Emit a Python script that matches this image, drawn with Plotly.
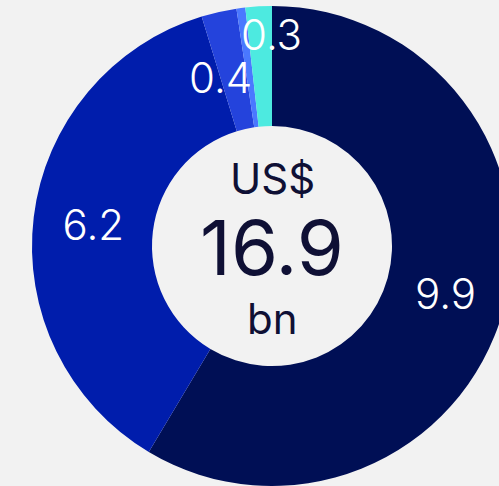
import math
import plotly.graph_objects as go

categories = ["A", "B", "C", "D", "E"]
values = [9.9, 6.2, 0.4, 0.1, 0.3]
labels_shown = ["9.9", "6.2", "0.4", "", "0.3"]
colors = ["#000F55", "#001DAC", "#2443DC", "#4A78FF", "#4DEAE0"]
total_label = "16.9"

W, H = 544, 486
R_OUT = 240
CX, CY = W / 2, 246

# small slices: labels placed outside plotly's inside-text logic
# (index -> (fraction along slice, radius in px))
small_label_pos = {2: (0.0, 176), 4: (1.0, 211)}

texts_inside = [t if i not in small_label_pos else "" for i, t in enumerate(labels_shown)]

fig = go.Figure(go.Pie(
    labels=categories,
    values=values,
    text=texts_inside,
    textinfo="text",
    textposition="inside",
    insidetextorientation="horizontal",
    hole=0.5,
    sort=False,
    direction="clockwise",
    rotation=0,
    marker=dict(colors=colors, line=dict(width=0)),
    textfont=dict(family="Inter", size=42, color="white", weight=300),
    domain=dict(x=[0, 1], y=[0, 2 * R_OUT / H]),
    showlegend=False,
))

total = sum(values)
cum = 0.0
for i, v in enumerate(values):
    if i in small_label_pos:
        frac, r = small_label_pos[i]
        ang = 2 * math.pi * (cum + frac * v) / total
        px = CX + r * math.sin(ang)
        py = CY - r * math.cos(ang)
        fig.add_annotation(x=px / W, y=(H - py) / H, xref="paper", yref="paper",
                           xanchor="center", yanchor="middle",
                           text=labels_shown[i], showarrow=False,
                           font=dict(family="Inter", size=42, color="white", weight=300))
    cum += v

cy = (H - CY) / H
center_font = dict(family="Inter", color="#0F1035")
fig.add_annotation(x=0.5, y=cy, xref="paper", yref="paper", text="US$", showarrow=False,
                   xanchor="center", yanchor="middle",
                   yshift=68, font=dict(size=42, **center_font))
fig.add_annotation(x=0.5, y=cy, xref="paper", yref="paper", text=total_label, showarrow=False,
                   xanchor="center", yanchor="middle",
                   yshift=-1, font=dict(size=76, **center_font))
fig.add_annotation(x=0.5, y=cy, xref="paper", yref="paper", text="bn", showarrow=False,
                   xanchor="center", yanchor="middle",
                   yshift=-72, font=dict(size=42, **center_font))

fig.update_layout(
    width=W, height=H, autosize=False,
    margin=dict(l=0, r=0, t=0, b=0),
    paper_bgcolor="#F2F2F2", plot_bgcolor="#F2F2F2",
    uniformtext=dict(minsize=42, mode="show"),
)

fig.write_html("out.html", post_script="document.documentElement.style.overflow='hidden';document.body.style.overflow='hidden';document.body.style.margin='0';")
